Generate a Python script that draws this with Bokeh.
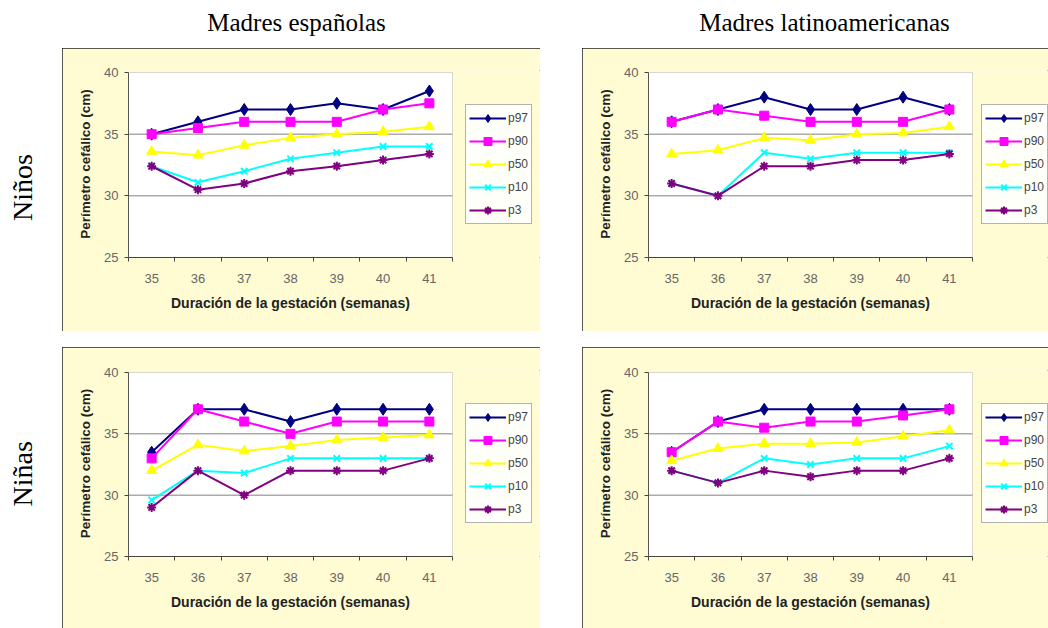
import math

from bokeh.core.properties import value
from bokeh.embed import file_html
from bokeh.layouts import column, row
from bokeh.models import (BoxAnnotation, FixedTicker, Legend, LegendItem, Range1d,
                          Spacer, Title)
from bokeh.plotting import figure
from bokeh.resources import INLINE

# ---------------------------------------------------------------- data
weeks = [35, 36, 37, 38, 39, 40, 41]
percentiles = ["p97", "p90", "p50", "p10", "p3"]
col_titles = ["Madres españolas", "Madres latinoamericanas"]
row_titles = ["Niños", "Niñas"]
x_title = "Duración de la gestación (semanas)"
y_title = "Perímetro cefálico (cm)"
y_ticks = [25, 30, 35, 40]

# Spanish mothers, boys
esp_ninos_p97 = [35, 36, 37, 37, 37.5, 37, 38.5]
esp_ninos_p90 = [35, 35.5, 36, 36, 36, 37, 37.5]
esp_ninos_p50 = [33.6, 33.3, 34.1, 34.7, 35, 35.2, 35.6]
esp_ninos_p10 = [32.4, 31.1, 32, 33, 33.5, 34, 34]
esp_ninos_p3 = [32.4, 30.5, 31, 32, 32.4, 32.9, 33.4]

# Latin American mothers, boys
lat_ninos_p97 = [36, 37, 38, 37, 37, 38, 37]
lat_ninos_p90 = [36, 37, 36.5, 36, 36, 36, 37]
lat_ninos_p50 = [33.4, 33.7, 34.7, 34.5, 35, 35.1, 35.6]
lat_ninos_p10 = [31, 30, 33.5, 33, 33.5, 33.5, 33.5]
lat_ninos_p3 = [31, 30, 32.4, 32.4, 32.9, 32.9, 33.4]

# Spanish mothers, girls
esp_ninas_p97 = [33.5, 37, 37, 36, 37, 37, 37]
esp_ninas_p90 = [33, 37, 36, 35, 36, 36, 36]
esp_ninas_p50 = [32.0, 34.1, 33.6, 34.0, 34.5, 34.7, 34.9]
esp_ninas_p10 = [29.6, 32, 31.8, 33, 33, 33, 33]
esp_ninas_p3 = [29, 32, 30, 32, 32, 32, 33]

# Latin American mothers, girls
lat_ninas_p97 = [33.5, 36, 37, 37, 37, 37, 37]
lat_ninas_p90 = [33.5, 36, 35.5, 36, 36, 36.5, 37]
lat_ninas_p50 = [32.8, 33.8, 34.2, 34.2, 34.3, 34.8, 35.3]
lat_ninas_p10 = [32, 31, 33, 32.5, 33, 33, 34]
lat_ninas_p3 = [32, 31, 32, 31.5, 32, 32, 33]

# ---------------------------------------------------------------- styles
COLORS = {"p97": "#000080", "p90": "#FF00FF", "p50": "#FFFF00",
          "p10": "#00FFFF", "p3": "#800080"}
MARKERS = {"p97": ("diamond", 12), "p90": ("square", 9), "p50": ("triangle", 10),
           "p10": ("x", 9), "p3": ("asterisk", 9)}
PANEL_BG = "#FFFCD3"
SANS = "Liberation Sans"
SERIF = "Liberation Serif"

PLOT_W = 324          # width of the white plotting box, px
PLOT_H = 185          # height of the white plotting box, px
LEFT = 66             # room for the y axis
PAD_TOP = 2           # frame starts a little above the box so its top edge shows
XTITLE_W = 239        # approximate rendered width of the x axis title, px


def make_panel(series, width, height, top, bottom, legend_dx):
    x0, x1 = weeks[0] - 0.5, weeks[-1] + 0.5
    y0, y1 = y_ticks[0], y_ticks[-1]
    px_per_x = PLOT_W / (x1 - x0)
    px_per_y = PLOT_H / (y1 - y0)
    frame_w = width - LEFT
    x_end = x1 + (frame_w - PLOT_W) / px_per_x
    y_end = y1 + PAD_TOP / px_per_y

    p = figure(width=width, height=height, title=None,
               x_range=Range1d(x0, x_end), y_range=Range1d(y0, y_end),
               output_backend="svg", toolbar_location=None,
               min_border_left=LEFT, min_border_right=0,
               min_border_top=top - PAD_TOP, min_border_bottom=bottom)
    p.background_fill_color = PANEL_BG
    p.border_fill_color = PANEL_BG
    p.outline_line_color = None
    p.styles = {"outline": "1px solid #222", "outline-offset": "-1px"}

    # white plotting box with its grey edge
    p.add_layout(BoxAnnotation(left=x0, right=x1, bottom=y0, top=y1,
                               fill_color="white", fill_alpha=1,
                               line_color="#808080", line_width=1, level="underlay"))
    # horizontal grid lines at the inner y ticks
    inner = y_ticks[1:-1]
    p.segment(x0=[x0] * len(inner), x1=[x1] * len(inner), y0=inner, y1=inner,
              line_color="#808080", line_width=1)

    items = []
    for name, ys in zip(percentiles, series):
        c = COLORS[name]
        mk, sz = MARKERS[name]
        r_line = p.line(weeks, ys, line_color=c, line_width=2)
        r_mark = p.scatter(weeks, ys, marker=mk, size=sz, fill_color=c, line_color=c,
                           line_width=2 if mk in ("x", "asterisk") else 1)
        items.append(LegendItem(label=name, renderers=[r_line, r_mark]))

    # x axis: labels at week centres, tick marks between categories
    xa = p.xaxis[0]
    xa.bounds = (x0, x1)
    xa.ticker = FixedTicker(ticks=weeks, minor_ticks=[w - 0.5 for w in weeks] + [x1])
    xa.major_tick_in = 0
    xa.major_tick_out = 0
    xa.minor_tick_in = 0
    xa.minor_tick_out = 4
    xa.minor_tick_line_color = "#444"
    xa.axis_line_color = "#444"
    xa.major_label_standoff = 12

    # x title centred under the white box (the frame also spans the legend area)
    p.add_layout(Title(text=x_title, align="left", offset=(PLOT_W - XTITLE_W) / 2,
                       vertical_align="top", standoff=19,
                       text_font=SANS, text_font_size="14px", text_font_style="bold",
                       text_color="#222222"), "below")

    ya = p.yaxis[0]
    ya.bounds = (y0, y1)
    ya.ticker = FixedTicker(ticks=y_ticks, minor_ticks=[])
    ya.major_tick_in = 0
    ya.major_tick_out = 4
    ya.minor_tick_out = 0
    ya.minor_tick_in = 0
    ya.major_tick_line_color = "#444"
    ya.axis_line_color = "#555"
    ya.major_label_standoff = 6
    ya.axis_label = y_title
    ya.axis_label_standoff = 8
    ya.axis_label_text_font = SANS
    ya.axis_label_text_font_size = "13.5px"
    ya.axis_label_text_font_style = "bold"
    ya.axis_label_text_color = "#222222"

    for ax in (xa, ya):
        ax.major_label_text_font = SANS
        ax.major_label_text_font_size = "13px"
        ax.major_label_text_color = "#666666"

    p.xgrid.visible = False
    p.ygrid.visible = False

    lg = Legend(items=items, location=(legend_dx, 33))
    lg.border_line_color = "#666666"
    lg.border_line_width = 1
    lg.background_fill_color = "#FFFFFA"
    lg.background_fill_alpha = 1
    lg.label_text_font = SANS
    lg.label_text_font_size = "12px"
    lg.label_text_color = "#444444"
    lg.glyph_width = 37
    lg.glyph_height = 20
    lg.label_height = 20
    lg.label_standoff = 2
    lg.spacing = 3
    lg.padding = 3
    lg.margin = 0
    p.add_layout(lg, "center")
    return p


def blank(width, height, y_flip=False):
    f = figure(width=width, height=height, title=None,
               x_range=Range1d(0, width),
               y_range=Range1d(height, 0) if y_flip else Range1d(0, height),
               output_backend="svg", toolbar_location=None, min_border=0)
    f.axis.visible = False
    f.grid.visible = False
    f.outline_line_color = None
    f.background_fill_color = "white"
    f.border_fill_color = "white"
    return f


# column headings
head = blank(1048, 48, y_flip=True)
head.text(x=[296, 824], y=[22, 22], text=col_titles,
          text_font=value(SERIF), text_font_size="25px",
          text_align="center", text_baseline="alphabetic", text_color="black")

# row headings
lab1 = blank(62, 283)
lab1.text(x=[22], y=[106], text=[row_titles[0]], angle=math.pi / 2,
          text_font=value(SERIF), text_font_size="28px",
          text_align="center", text_baseline="middle", text_color="black")
lab2 = blank(62, 281)
lab2.text(x=[22], y=[125], text=[row_titles[1]], angle=math.pi / 2,
          text_font=value(SERIF), text_font_size="28px",
          text_align="center", text_baseline="middle", text_color="black")

p1 = make_panel([esp_ninos_p97, esp_ninos_p90, esp_ninos_p50, esp_ninos_p10, esp_ninos_p3],
                478, 283, 24, 74, 337)
p2 = make_panel([lat_ninos_p97, lat_ninos_p90, lat_ninos_p50, lat_ninos_p10, lat_ninos_p3],
                466, 283, 24, 74, 333)
p3 = make_panel([esp_ninas_p97, esp_ninas_p90, esp_ninas_p50, esp_ninas_p10, esp_ninas_p3],
                478, 281, 25, 72, 337)
p4 = make_panel([lat_ninas_p97, lat_ninas_p90, lat_ninas_p50, lat_ninas_p10, lat_ninas_p3],
                466, 281, 25, 72, 333)

layout = column(
    head,
    row(lab1, p1, Spacer(width=42, height=283), p2, spacing=0),
    Spacer(width=1048, height=16),
    row(lab2, p3, Spacer(width=42, height=281), p4, spacing=0),
    spacing=0,
)

with open("out.html", "w") as fh:
    fh.write(file_html(layout, INLINE, title="Perímetro cefálico"))
